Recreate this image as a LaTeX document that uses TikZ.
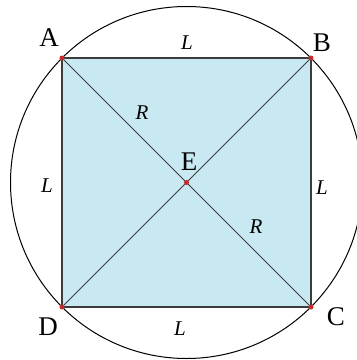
\documentclass[tikz,border=0pt]{standalone}
\usepackage{fontspec}
\setmainfont{Liberation Serif}
\usepackage{tikz}
\usetikzlibrary{
  positioning,
  calc,
}
\definecolor{sqfill}{RGB}{200,232,242}
\definecolor{edgegray}{RGB}{60,60,60}
\definecolor{dotred}{RGB}{200,40,40}

\begin{document}
\begin{tikzpicture}[
  x=0.5pt, y=-0.5pt,
  font=\fontsize{13.5}{15}\selectfont,
  pt/.style={circle, fill=dotred, inner sep=0pt, minimum size=2.5pt},
  side/.style={font=\fontsize{10.5}{12}\selectfont\itshape},
  edge/.style={draw=edgegray, line width=0.6pt},
]
  \useasboundingbox (0,0) rectangle (357,360);

  % Corner and centre points
  \coordinate (A) at (62,58);
  \coordinate (B) at (311,58);
  \coordinate (C) at (311,307);
  \coordinate (D) at (62,307);
  \coordinate (E) at (186.5,182.5);

  % Square, circle and diagonals
  \fill[sqfill] (A) -- (B) -- (C) -- (D) -- cycle;
  \draw[line width=0.5pt] (E) circle [radius=176];
  \draw[edge] (A) -- (B) -- (C) -- (D) -- cycle;
  \draw[edge, line width=0.45pt] (A) -- (C);
  \draw[edge, line width=0.45pt] (B) -- (D);
  \foreach \p in {A,B,C,D,E} \node[pt] (dot\p) at (\p) {};

  % Point labels
  \node (lA) at (49,38)  {A};
  \node (lB) at (322,43) {B};
  \node (lC) at (336,317) {C};
  \node (lD) at (48,327) {D};
  \node (lE) at (189,162) {E};

  % Side and radius labels
  \node[side] (Ltop)   at (187,43)  {L};
  \node[side] (Lleft)  at (47,186)  {L};
  \node[side] (Lright) at (322,188) {L};
  \node[side] (Lbot)   at (180,329) {L};
  \node[side] (R1)     at (142,113) {R};
  \node[side] (R2)     at (256,227) {R};
\end{tikzpicture}
\end{document}
